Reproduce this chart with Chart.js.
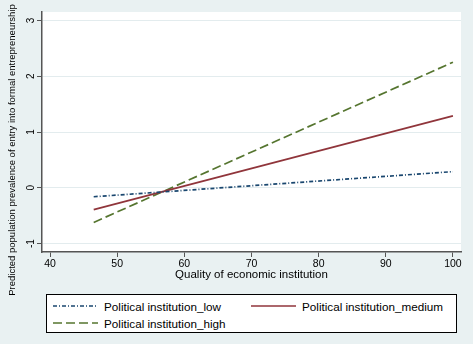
<!DOCTYPE html>
<html>
<head>
<meta charset="utf-8">
<script src="https://cdn.jsdelivr.net/npm/chart.js@4"></script>
<style>
  body { margin: 0; background: #e9f1f2; }
  #wrap { position: relative; width: 473px; height: 344px; font-family: "Liberation Sans", Arial, sans-serif; }
  #legend { position: absolute; left: 46px; top: 294px; width: 409px; height: 37px; background: #fff; border: 1px solid #000; }
  .item { position: absolute; font-size: 11.7px; color: #000; display: flex; align-items: center; height: 14px; }
  .item svg { margin-right: 6px; }
</style>
</head>
<body>
<div id="wrap">
  <canvas id="chart" width="473" height="344"></canvas>
  <div id="legend"></div>
</div>
<script>
// data
const xValues = [46.5, 100];
const lowValues = [-0.16, 0.29];
const mediumValues = [-0.39, 1.29];
const highValues = [-0.62, 2.25];
const seriesNames = ["Political institution_low", "Political institution_medium", "Political institution_high"];
const xTicks = [40, 50, 60, 70, 80, 90, 100];
const yTicks = [-1, 0, 1, 2, 3];
const yTitle = "Predicted population prevalence of entry into formal entrepreneurship";
const xTitle = "Quality of economic institution";

const colors = ["#1a476f", "#90353b", "#55752f"];
const dashes = [[4, 2, 1, 2], [], [9, 4]];

const toPoints = (vals) => vals.map((v, i) => ({ x: xValues[i], y: v }));

// white plot region + rotated y labels and title (Stata style)
const stataPlugin = {
  id: "stata",
  beforeDraw: (chart) => {
    const { ctx, chartArea: a } = chart;
    ctx.save();
    ctx.fillStyle = "#fff";
    ctx.fillRect(a.left, a.top, a.right - a.left, a.bottom - a.top);
    ctx.restore();
  },
  afterDraw: (chart) => {
    const { ctx } = chart;
    const y = chart.scales.y;
    ctx.save();
    ctx.fillStyle = "#000";
    ctx.font = "10px 'Liberation Sans', Arial, sans-serif";
    ctx.textAlign = "center";
    ctx.textBaseline = "middle";
    yTicks.forEach((t) => {
      ctx.save();
      ctx.translate(31, y.getPixelForValue(t));
      ctx.rotate(-Math.PI / 2);
      ctx.fillText(String(t), 0, 0);
      ctx.restore();
    });
    ctx.font = "9.5px 'Liberation Sans', Arial, sans-serif";
    ctx.translate(12, 150);
    ctx.rotate(-Math.PI / 2);
    ctx.fillText(yTitle, 0, 0);
    ctx.restore();
  },
};

new Chart(document.getElementById("chart"), {
  type: "line",
  data: {
    datasets: [lowValues, mediumValues, highValues].map((vals, i) => ({
      label: seriesNames[i],
      data: toPoints(vals),
      borderColor: colors[i],
      borderWidth: 1.7,
      borderDash: dashes[i],
      pointRadius: 0,
      fill: false,
    })),
  },
  options: {
    responsive: false,
    animation: false,
    layout: { padding: { left: 0, right: 12, top: 12, bottom: 62 } },
    plugins: { legend: { display: false }, tooltip: { enabled: false } },
    scales: {
      x: {
        type: "linear",
        min: 38.8,
        max: 101.2,
        afterBuildTicks: (s) => { s.ticks = xTicks.map((v) => ({ value: v })); },
        afterFit: (s) => { s.height = 30; },
        grid: { drawOnChartArea: false, drawTicks: true, tickLength: 5, tickColor: "#555", tickWidth: 1 },
        border: { color: "#555", width: 1.5 },
        ticks: { color: "#000", font: { size: 10.5, family: "'Liberation Sans', Arial, sans-serif" }, padding: 1, maxRotation: 0 },
        title: { display: true, text: xTitle, color: "#000", font: { size: 11.5, family: "'Liberation Sans', Arial, sans-serif" }, padding: { top: 0, bottom: 0 } },
      },
      y: {
        min: -1.15,
        max: 3.15,
        afterBuildTicks: (s) => { s.ticks = yTicks.map((v) => ({ value: v })); },
        afterFit: (s) => { s.width = 42; },
        grid: { color: "#e3ecee", lineWidth: 1, drawTicks: true, tickLength: 5, tickColor: "#555", tickWidth: 1 },
        border: { color: "#555", width: 1.5 },
        ticks: { color: "rgba(0,0,0,0)", font: { size: 10 } },
      },
    },
  },
  plugins: [stataPlugin],
});

// legend box, two columns like the original
const legend = document.getElementById("legend");
const slots = [[6, 4], [204, 4], [6, 21]];
seriesNames.forEach((name, i) => {
  const div = document.createElement("div");
  div.className = "item";
  div.style.left = slots[i][0] + "px";
  div.style.top = slots[i][1] + "px";
  div.innerHTML =
    `<svg width="45" height="4"><line x1="0" y1="2" x2="45" y2="2" stroke="${colors[i]}" stroke-width="1.5" stroke-dasharray="${dashes[i].join(" ") || "none"}"/></svg>` +
    `<span>${name}</span>`;
  legend.appendChild(div);
});
</script>
</body>
</html>
